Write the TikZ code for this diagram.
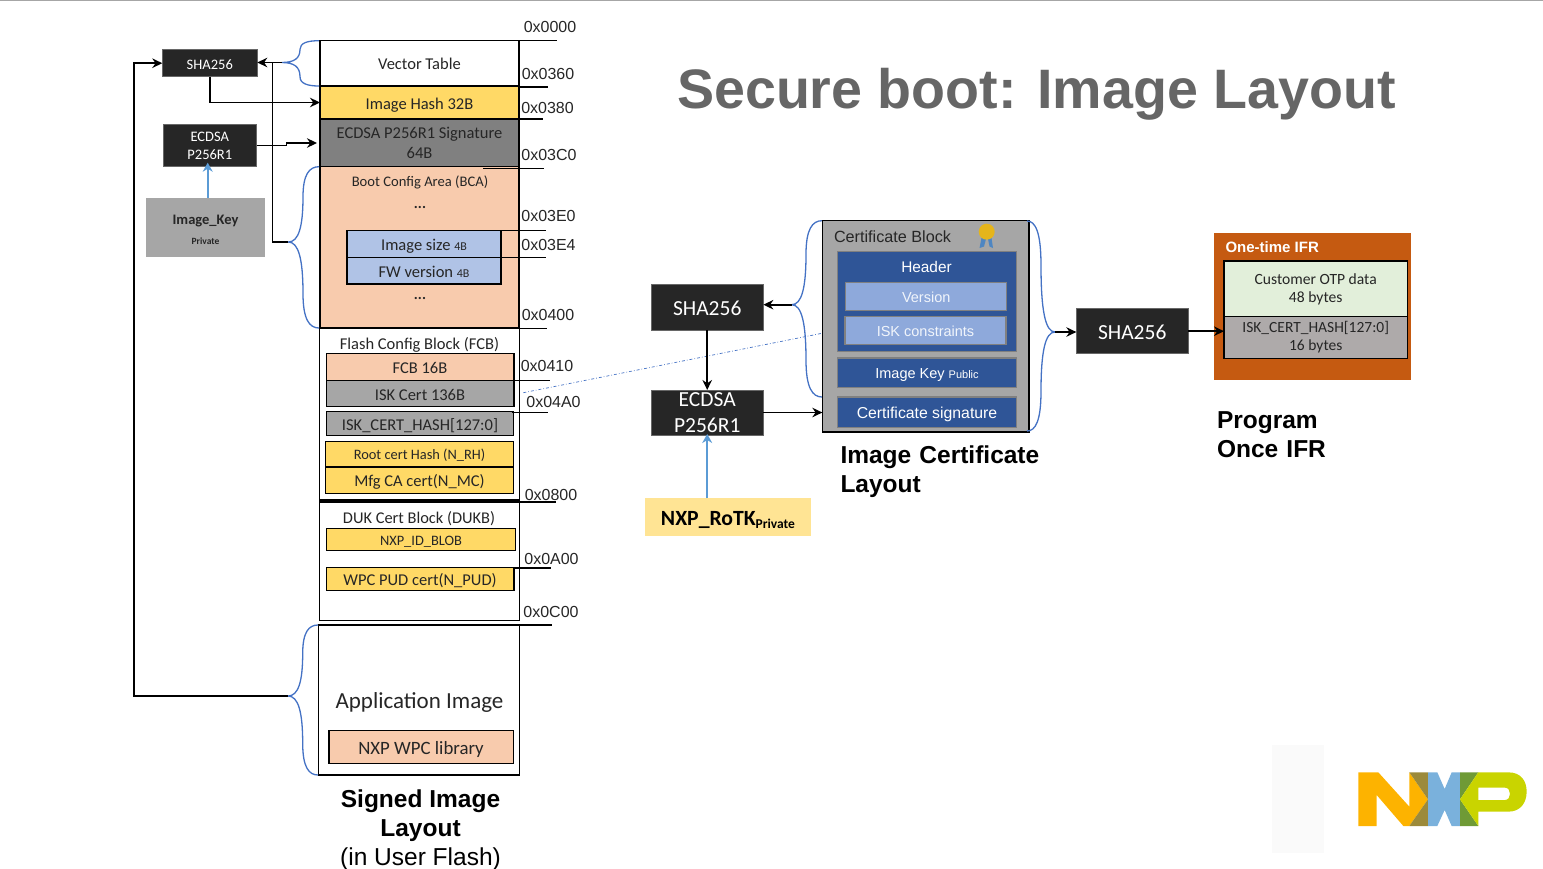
\documentclass[tikz,border=0pt]{standalone}
\usepackage{fontspec}
\setmainfont{Carlito}
\newfontfamily\arialfont{Liberation Sans}
\usetikzlibrary{positioning, arrows.meta}
\definecolor{boxblack}{HTML}{262626}
\definecolor{gold}{HTML}{FFD966}
\definecolor{peach}{HTML}{F8CBAD}
\definecolor{midgray}{HTML}{A6A6A6}
\definecolor{palegreen}{HTML}{E2EFDA}
\definecolor{warmgray}{HTML}{AEAAAA}
\definecolor{navy}{HTML}{2F5597}
\definecolor{skyblue}{HTML}{8EA9DB}
\definecolor{ifrorange}{HTML}{C55A11}
\definecolor{bracecol}{HTML}{4472C4}
\definecolor{keyarrow}{HTML}{5B9BD5}
\definecolor{logoorange}{HTML}{FDB300}
\definecolor{logoolive}{HTML}{9C8A3A}
\definecolor{logoblue}{HTML}{7AB1DC}
\definecolor{logogreen}{HTML}{6F9A36}
\definecolor{logolime}{HTML}{C9D400}
\newcommand{\fsize}[1]{\fontsize{#1}{#1}\selectfont}
\tikzset{wh/.style 2 args={minimum width=#1pt, minimum height=#2pt}}
\tikzset{lowtext/.style={execute at begin node={\rule[-0.2em]{0pt}{1.2em}}}}
\tikzset{lowtwo/.style={execute at begin node={\rule{0pt}{0.85em}}}}
\tikzset{lowmore/.style={execute at begin node={\rule{0pt}{1.2em}}}}
\tikzset{lowmost/.style={execute at begin node={\rule{0pt}{1.3em}}}}
\tikzstyle{plain} = [rectangle, inner sep=0pt, outer sep=0pt, text centered, align=center]
\tikzstyle{membase} = [plain, draw=black, line width=1.3pt, text=boxblack, font=\fsize{16.5}]
\tikzstyle{mem} = [membase, lowtext]
\tikzstyle{memtwo} = [membase, lowtwo]
\tikzstyle{hashbase} = [plain, fill=boxblack, draw=boxblack!70!white, line width=0.5pt, text=white]
\tikzstyle{hash} = [hashbase, lowtext]
\tikzstyle{hashtwo} = [hashbase, lowtwo]
\tikzstyle{certpart} = [plain, fill=navy, draw=black!50, line width=1.4pt, text=white, font=\arialfont\fsize{14.5}, lowtext]
\tikzstyle{certsub} = [plain, fill=skyblue, draw=black!50, line width=1.4pt, text=white!88!skyblue, font=\arialfont\fsize{14.5}, lowtext]
\tikzstyle{hex} = [plain, text=boxblack, font=\arialfont\fsize{16}]
\tikzstyle{tick} = [black, line width=1.1pt]
\tikzstyle{caption} = [plain, text=black, font=\arialfont\bfseries\fsize{24.5}]
\tikzstyle{arrow} = [black, line width=1.6pt, -{Stealth[length=10pt, width=9.5pt]}]
\tikzstyle{line} = [black, line width=1.6pt]
\tikzstyle{keyline} = [keyarrow, line width=1.7pt, -{Stealth[length=9pt, width=10pt]}]
\tikzstyle{curly} = [bracecol, line width=1.3pt]
% near x, top y, bottom y, tip x, tip y, middle x
\newcommand{\curlybrace}[6]{%
  \draw [curly] (#1,#2) .. controls ({#6+(#1-#6)*0.4},#2) and (#6,{#2+(#5-#2)*0.1}) .. (#6,{#2+(#5-#2)*0.4})
    .. controls (#6,{#5-(#5-#2)*0.2}) and ({#4+(#6-#4)*0.7},#5) .. (#4,#5)
    .. controls ({#4+(#6-#4)*0.7},#5) and (#6,{#5+(#3-#5)*0.2}) .. (#6,{#3-(#3-#5)*0.4})
    .. controls (#6,{#3-(#3-#5)*0.1}) and ({#6+(#1-#6)*0.4},#3) .. (#1,#3);
}
\begin{document}
\begin{tikzpicture}[x=1pt, y=-1pt]
    \useasboundingbox (0,0) rectangle (1543,868);
    \draw [black!35, line width=1.2pt] (0,0.5) -- (1543,0.5);

    % Title
    \node (title) [plain, text=black!60, font=\arialfont\bfseries\fsize{55.6}] at (1036.5,94) {Secure boot: Image Layout};

    % Signed image layout
    \node (vector) [mem, wh={199}{45}, fill=white] at (419.5,63) {Vector Table};
    \node (imghash) [mem, wh={199}{33}, fill=gold] at (419.5,102.5) {Image Hash 32B};
    \node (signature) [memtwo, wh={199}{47}, fill=black!50] at (419.5,143) {ECDSA P256R1 Signature\\[4pt]64B};
    \node (bca) [mem, wh={199}{161.5}, fill=peach] at (419.5,247.3) {};
    \node (bcatitle) [plain, text=boxblack, font=\fsize{14.6}] at (420,182) {Boot Config Area (BCA)};
    \node (dotsa) [plain, text=boxblack, font=\bfseries\fsize{15}] at (420,207) {...};
    \node (imgsize) [mem, wh={154}{26.6}, fill=skyblue!70!white] at (424,244) {Image size {\fsize{12}4B}};
    \node (fwver) [mem, wh={154}{26.6}, fill=skyblue!70!white] at (424,270.6) {FW version {\fsize{12}4B}};
    \node (dotsb) [plain, text=boxblack, font=\bfseries\fsize{15}] at (420,298) {...};
    \node (fcbarea) [mem, wh={200}{172}, fill=white] at (419.5,414) {};
    \node (fcbtitle) [plain, text=boxblack, font=\fsize{16.5}] at (419.5,344.5) {Flash Config Block (FCB)};
    \node (fcb) [mem, wh={187.7}{26.6}, fill=peach] at (420,367) {FCB 16B};
    \node (iskcert) [mem, wh={187.7}{26.4}, fill=midgray] at (420,393.5) {ISK Cert 136B};
    \node (iskhash) [mem, wh={187.2}{24}, fill=midgray] at (420,423.7) {ISK\_CERT\_HASH[127:0]};
    \node (roothash) [mem, wh={188.4}{25.7}, fill=gold, font=\fsize{14.4}] at (419.5,454.2) {Root cert Hash (N\_RH)};
    \node (mfgca) [mem, wh={188.4}{26.3}, fill=gold] at (419.5,480.2) {Mfg CA cert(N\_MC)};
    \node (dukarea) [mem, wh={200}{118.7}, fill=white] at (419.5,561.3) {};
    \node (duktitle) [plain, text=boxblack, font=\fsize{16.4}] at (419,518.5) {DUK Cert Block (DUKB)};
    \node (idblob) [mem, wh={188.6}{22.4}, fill=gold, font=\fsize{14.4}] at (421,539.5) {NXP\_ID\_BLOB};
    \node (pudcert) [mem, wh={187.7}{22.6}, fill=gold] at (420,579) {WPC PUD cert(N\_PUD)};
    \node (appimage) [mem, wh={201}{150}, fill=white] at (419.2,700) {};
    \node (apptitle) [plain, text=boxblack, font=\fsize{23}] at (419.5,702.5) {Application Image};
    \node (wpclib) [mem, wh={184.3}{32.6}, fill=peach, font=\fsize{18.8}] at (421,747) {NXP WPC library};
    \node (signedcap) [caption, font=\arialfont\fsize{24.5}] at (420.5,830) {\textbf{Signed Image}\\[5pt]\textbf{Layout}\\[4pt](in User Flash)};

    % Addresses
    \draw [tick] (519,40.7) -- (556.7,40.7);
    \draw [tick] (519,87) -- (548,87);
    \draw [tick] (519,119) -- (543,119);
    \draw [tick] (483,168.5) -- (544,168.5);
    \draw [tick] (501,230.7) -- (545.7,230.7);
    \draw [tick] (501,257.3) -- (545.7,257.3);
    \draw [tick] (510,328.3) -- (546.7,328.3);
    \draw [tick] (513,380.3) -- (550,380.3);
    \draw [tick] (511.7,412.3) -- (547.7,412.3);
    \draw [tick] (519,502) -- (556,502);
    \draw [tick] (513.7,568) -- (551,568);
    \draw [tick] (518,625) -- (551.7,625);
    \node (hexa) [hex] at (550,27) {0x0000};
    \node (hexb) [hex] at (548,74) {0x0360};
    \node (hexc) [hex] at (547.5,107.5) {0x0380};
    \node (hexd) [hex] at (549,154.5) {0x03C0};
    \node (hexe) [hex] at (548.5,215.5) {0x03E0};
    \node (hexf) [hex] at (548.5,244.5) {0x03E4};
    \node (hexg) [hex] at (548,314.5) {0x0400};
    \node (hexh) [hex] at (547,365.5) {0x0410};
    \node (hexi) [hex] at (553.5,401.5) {0x04A0};
    \node (hexj) [hex] at (551,494.5) {0x0800};
    \node (hexk) [hex] at (551.5,558.5) {0x0A00};
    \node (hexl) [hex] at (551,611.5) {0x0C00};

    % Left column
    \node (shaleft) [hash, wh={95}{27}, font=\fsize{14.5}] at (209.8,63.2) {SHA256};
    \node (ecdsaleft) [hashtwo, wh={93.7}{42.4}, font=\fsize{14.5}] at (209.8,145.5) {ECDSA\\[3.5pt]P256R1};
    \node (imagekey) [plain, wh={119}{58.7}, fill=midgray, text=boxblack] at (205.5,227.3) {};
    \node (imagekeyname) [plain, text=boxblack, font=\bfseries\fsize{14.5}] at (205.5,221) {Image\_Key};
    \node (imagekeypriv) [plain, text=boxblack, font=\bfseries\fsize{9.5}] at (205.5,241.5) {Private};

    % Braces
    \curlybrace{319}{40.7}{86}{281.7}{62.5}{300}
    \curlybrace{319}{166.7}{328}{288.3}{242}{303}
    \curlybrace{318}{625}{775}{288}{696}{302.7}
    \curlybrace{822}{220.7}{397}{791.7}{304.7}{806}
    \coordinate (vectortip) at (281.7,62.5);
    \coordinate (bcatip) at (288.3,242);
    \coordinate (apptip) at (288,696);
    \coordinate (bcaturn) at (272.5,242);
    \coordinate (apploop) at (134,696);
    \coordinate (certtip) at (791.7,304.7);

    % Left arrows
    \draw [arrow] (vectortip) -- (vectortip -| shaleft.east);
    \draw [line] (bcatip) -- (bcaturn) |- (vectortip);
    \draw [arrow] (apptip) -- (apploop) |- (shaleft.west);
    \draw [arrow] (shaleft.south) |- (imghash.west);
    \draw [arrow, shorten >=3pt] (ecdsaleft.east) -- ++(30,0) -- ++(0,-2.5) -- (signature.west);
    \draw [keyline, shorten >=-4pt] (imagekey.north -| 207.7,0) -- (ecdsaleft.south -| 207.7,0);

    % Middle part
    \coordinate (dashend) at (822,333.3);
    \coordinate (dashstart) at (523.3,392.7);
    \draw [bracecol, line width=0.7pt, dash dot] (dashstart) -- (dashend);
    \node (shamid) [hash, wh={112.3}{45.3}, font=\fsize{21.5}] at (707.2,307.3) {SHA256};
    \node (ecdsamid) [hashtwo, wh={112.3}{45}, font=\fsize{21.5}] at (707.2,412.5) {ECDSA\\[5pt]P256R1};
    \node (rotk) [plain, wh={166}{37.4}, fill=gold!70!white, text=black, font=\bfseries\fsize{21.7}, lowtext] at (728,517) {NXP\_RoTK\raisebox{-3pt}{\fsize{13.5}Private}};
    \draw [arrow] (shamid.south) -- (ecdsamid.north);
    \draw [keyline, shorten >=-1pt] (rotk.north -| ecdsamid.south) -- (ecdsamid.south);

    % Certificate block
    \node (certblock) [plain, wh={206.7}{211.3}, fill=midgray, draw=black, line width=1.3pt] at (925.7,326.3) {};
    \node (certtitle) [plain, text=boxblack, font=\arialfont\fsize{16.2}, anchor=west] at (834,236.5) {Certificate Block};
    \fill [keyarrow!70!navy] (981.5,238) -- (979.5,248) -- (984,246.5) -- (986,239) -- cycle;
    \fill [keyarrow!70!navy] (988,239) -- (989.5,246.5) -- (993,248) -- (991.5,238) -- cycle;
    \fill [yellow!55!orange!90!black] (986.7,231.7) circle (8);
    \node (certheader) [certpart, wh={179.4}{100}, anchor=north] at (927,251.3) {};
    \node (headertext) [plain, text=white, font=\arialfont\fsize{15.4}] at (926.5,266.7) {Header};
    \node (version) [certsub, wh={161}{28}] at (926.2,296.7) {Version};
    \node (iskcons) [certsub, wh={161}{27.6}] at (925.5,330.5) {ISK constraints};
    \node (imagepub) [certpart, wh={179.4}{29.3}] at (927,372.7) {Image Key {\fsize{11}Public}};
    \node (certsig) [certpart, wh={179.4}{30.3}, font=\arialfont\fsize{15.8}] at (927,412.2) {Certificate signature};
    \node (certcap) [caption, anchor=north west, align=left, text width=230pt] at (840.5,446) {Image Certificate\\[4pt]Layout};
    \draw [arrow] (ecdsamid.east) -- (ecdsamid.east -| certblock.west);
    \draw [arrow] (certtip) -- (certtip -| shamid.east);
    \curlybrace{1027}{221}{431}{1055}{332}{1041}
    \coordinate (righttip) at (1055,332);

    % One-time IFR
    \node (shaifr) [hash, wh={111.7}{45}, font=\fsize{21.5}] at (1132.2,331.2) {SHA256};
    \node (ifr) [plain, wh={196.4}{147.6}, fill=ifrorange] at (1312.5,306.5) {};
    \node (ifrtitle) [plain, text=white, font=\arialfont\bfseries\fsize{15}, anchor=west] at (1225.5,247.5) {One-time IFR};
    \node (otp) [memtwo, lowmore, wh={183.3}{55.7}, fill=palegreen, font=\fsize{15.6}] at (1315.7,288.9) {Customer OTP data\\[2.5pt]48 bytes};
    \node (ifrhash) [memtwo, lowmost, wh={183.3}{41.6}, fill=warmgray, font=\fsize{15.5}] at (1315.7,337.5) {ISK\_CERT\_HASH[127:0]\\[2.5pt]16 bytes};
    \node (ifrcap) [caption, anchor=north west, align=left, text width=150pt] at (1217,412) {Program\\[4pt]Once IFR};
    \draw [arrow] (righttip) -- (righttip -| shaifr.west);
    \draw [arrow] (shaifr.east) -- (shaifr.east -| ifrhash.west);

    % Logo
    \fill [black!2] (1272,745) rectangle (1324,853);
    \begin{scope}[shift={(1350,765)}, x=0.3333pt, y=-0.3333pt]
        \fill [logoorange] (25,22) -- (85,22) -- (178,125) -- (178,22) -- (234,103) -- (178,183) -- (160,183) -- (80,90) -- (80,183) -- (25,183) -- cycle;
        \fill [logoolive] (178,22) -- (234,22) -- (234,103) -- cycle;
        \fill [logoolive] (178,183) -- (234,183) -- (234,103) -- cycle;
        \fill [logoblue] (234,22) -- (262,22) -- (284,72) -- (305,22) -- (330,22) -- (330,183) -- (305,183) -- (284,135) -- (262,183) -- (234,183) -- cycle;
        \fill [logogreen] (330,22) -- (385,22) -- (330,103) -- cycle;
        \fill [logogreen] (330,183) -- (385,183) -- (330,103) -- cycle;
        \fill [logolime, even odd rule] (330,103) -- (385,22) -- (475,22) .. controls (515,22) and (530,50) .. (530,80) .. controls (530,115) and (510,140) .. (475,140) -- (385,140) -- (385,183) -- cycle
            (385,68) -- (465,68) .. controls (485,68) and (485,105) .. (465,105) -- (385,105) -- cycle;
    \end{scope}
\end{tikzpicture}
\end{document}
